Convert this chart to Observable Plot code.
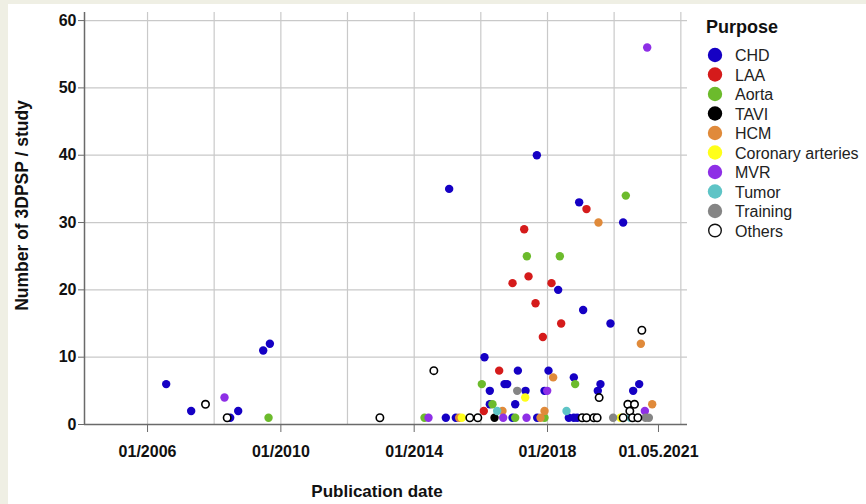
<!DOCTYPE html>
<html>
<head>
<meta charset="utf-8">
<script src="https://cdn.jsdelivr.net/npm/d3@7"></script>
<script src="https://cdn.jsdelivr.net/npm/@observablehq/plot@0.6"></script>
<style>
  html, body { margin: 0; padding: 0; background: #efefe4; }
  body { width: 866px; height: 504px; position: relative; overflow: hidden; font-family: "Liberation Sans", Arial, sans-serif; }
  #panel { position: absolute; left: 8px; top: 4px; width: 858px; height: 500px; background: #ffffff; }
</style>
</head>
<body>
<div id="panel"></div>
<script>
// ---- Data: [publication date (decimal year), number of 3DPSP per study] ----
const CHD = [[2006.56,6],[2007.31,2],[2008.48,1],[2008.72,2],[2009.47,11],[2009.67,12],
  [2014.95,1],[2015.25,1],[2015.05,35],[2016.11,10],[2016.27,5],[2016.27,3],[2016.71,6],[2016.79,6],
  [2017.11,8],[2017.34,5],[2017.03,3],[2016.95,1],[2017.69,1],[2017.91,5],[2018.03,8],[2017.68,40],
  [2018.32,20],[2018.95,33],[2020.27,30],[2019.07,17],[2019.89,15],[2018.79,7],[2018.64,1],[2018.79,1],
  [2018.89,1],[2019.59,6],[2019.51,5],[2020.57,5],[2020.75,6]];
const LAA = [[2016.09,2],[2016.55,8],[2017.86,13],[2018.41,15],[2019.17,32],[2017.30,29],[2017.43,22],
  [2016.95,21],[2018.12,21],[2017.64,18]];
const Aorta = [[2009.63,1],[2014.31,1],[2016.03,6],[2016.35,3],[2017.03,1],[2017.91,1],[2018.83,6],
  [2020.35,34],[2017.38,25],[2018.37,25]];
const TAVI = [[2016.41,1]];
const HCM = [[2015.35,1],[2016.65,2],[2017.79,1],[2017.91,2],[2018.17,7],[2019.53,30],[2020.80,12],[2021.14,3]];
const Coronary = [[2015.43,1],[2017.33,4],[2020.19,1]];
const MVR = [[2008.31,4],[2014.43,1],[2016.67,1],[2017.37,1],[2017.99,5],[2020.92,2],[2020.99,56]];
const Tumor = [[2016.49,2],[2018.57,2],[2020.49,1]];
const Training = [[2017.09,5],[2019.97,1],[2020.94,1],[2021.04,1]];
const Others = [[2007.74,3],[2008.39,1],[2012.97,1],[2014.59,8],[2015.67,1],[2015.91,1],[2019.04,1],
  [2019.17,1],[2019.39,1],[2019.49,1],[2019.55,4],[2020.27,1],[2020.41,3],[2020.61,3],[2020.47,2],
  [2020.55,1],[2020.71,1],[2020.83,14]];

const purposes = ["CHD","LAA","Aorta","TAVI","HCM","Coronary arteries","MVR","Tumor","Training","Others"];
const purposeColors = ["#1500c4","#d51b1b","#6cbb2c","#000000","#e08a3a","#ffff1a","#8e2fe6","#5ec4c6","#858585","#ffffff"];
const seriesByPurpose = [CHD, LAA, Aorta, TAVI, HCM, Coronary, MVR, Tumor, Training, Others];

const yTicks = [0,10,20,30,40,50,60];
const xTickDates = ["2006-01-01","2010-01-01","2014-01-01","2018-01-01","2021-05-01"];
const xTickLabels = ["01/2006","01/2010","01/2014","01/2018","01.05.2021"];
const xGridYears = [2006,2008,2010,2012,2014,2016,2018,2020,2022];

// ---- helpers ----
function toDate(v) {
  const y = Math.floor(v);
  const s = Date.UTC(y, 0, 1), e = Date.UTC(y + 1, 0, 1);
  return new Date(s + (v - y) * (e - s));
}
const rows = [];
seriesByPurpose.forEach((arr, i) => arr.forEach(([t, n]) => rows.push({date: toDate(t), n, purpose: purposes[i]})));
const filled = rows.filter(d => d.purpose !== "Others");
const open = rows.filter(d => d.purpose === "Others");

const xTicks = xTickDates.map(s => new Date(s + "T00:00:00Z"));
const labelOf = new Map(xTicks.map((d, i) => [+d, xTickLabels[i]]));
const xDomain = [toDate(2004.11), toDate(2022.2)];
const yMax = 61.2;
const gridColor = "#c9c9c9";
const axisColor = "#6a6a6a";

const chart = Plot.plot({
  width: 858,
  height: 500,
  marginLeft: 76,
  marginRight: 179,
  marginTop: 8,
  marginBottom: 80,
  style: {fontFamily: "'Liberation Sans', Arial, sans-serif", background: "#ffffff", color: "#111"},
  x: {type: "utc", domain: xDomain},
  y: {domain: [0, yMax]},
  color: {domain: purposes, range: purposeColors},
  marks: [
    Plot.ruleY(yTicks.filter(v => v > 0), {stroke: gridColor, strokeWidth: 1.2}),
    Plot.ruleX(xGridYears.map(y => toDate(y)), {y1: 0, y2: yMax, stroke: gridColor, strokeWidth: 1.2}),
    Plot.ruleX([xDomain[0]], {y1: 0, y2: yMax, stroke: axisColor, strokeWidth: 1.5}),
    Plot.ruleY([0], {stroke: axisColor, strokeWidth: 1.5}),
    Plot.axisY({ticks: yTicks, tickSize: 6, tickPadding: 2, label: null, fontSize: 16, fontWeight: "bold", stroke: axisColor}),
    Plot.axisX({ticks: xTicks, tickSize: 8, tickPadding: 13, label: null, fontSize: 16, fontWeight: "bold",
      tickFormat: d => labelOf.get(+d), stroke: axisColor}),
    Plot.dot(filled, {x: "date", y: "n", fill: "purpose", r: 4.2}),
    Plot.dot(open, {x: "date", y: "n", fill: "white", stroke: "black", strokeWidth: 1.6, r: 3.7}),
    Plot.text(["Number of 3DPSP / study"], {frameAnchor: "left", textAnchor: "middle", dx: -62, dy: -13, rotate: -90,
      fontSize: 17.5, fontWeight: "bold", fill: "#111"}),
    Plot.text(["Publication date"], {frameAnchor: "bottom", textAnchor: "middle", dy: 72, dx: -9, fontSize: 17, fontWeight: "bold", fill: "#111"})
  ]
});
document.getElementById("panel").appendChild(chart);

// ---- Legend ----
const ns = "http://www.w3.org/2000/svg";
const lg = document.createElementNS(ns, "svg");
lg.setAttribute("width", 866); lg.setAttribute("height", 504);
lg.style.position = "absolute"; lg.style.left = "0px"; lg.style.top = "0px";
const title = document.createElementNS(ns, "text");
title.setAttribute("x", 706); title.setAttribute("y", 33);
title.setAttribute("font-size", 18); title.setAttribute("font-weight", "bold");
title.setAttribute("font-family", "'Liberation Sans', Arial, sans-serif");
title.setAttribute("fill", "#111");
title.textContent = "Purpose";
lg.appendChild(title);
purposes.forEach((p, i) => {
  const cy = 55 + i * 19.5;
  const c = document.createElementNS(ns, "circle");
  c.setAttribute("cx", 715); c.setAttribute("cy", cy);
  if (p === "Others") {
    c.setAttribute("r", 6.3); c.setAttribute("fill", "#fff"); c.setAttribute("stroke", "#111"); c.setAttribute("stroke-width", 1.4);
  } else {
    c.setAttribute("r", 7.2); c.setAttribute("fill", purposeColors[i]);
  }
  lg.appendChild(c);
  const t = document.createElementNS(ns, "text");
  t.setAttribute("x", 735); t.setAttribute("y", cy + 6);
  t.setAttribute("font-size", 16);
  t.setAttribute("font-family", "'Liberation Sans', Arial, sans-serif");
  t.setAttribute("fill", "#222");
  t.textContent = p;
  lg.appendChild(t);
});
document.body.appendChild(lg);
</script>
</body>
</html>
